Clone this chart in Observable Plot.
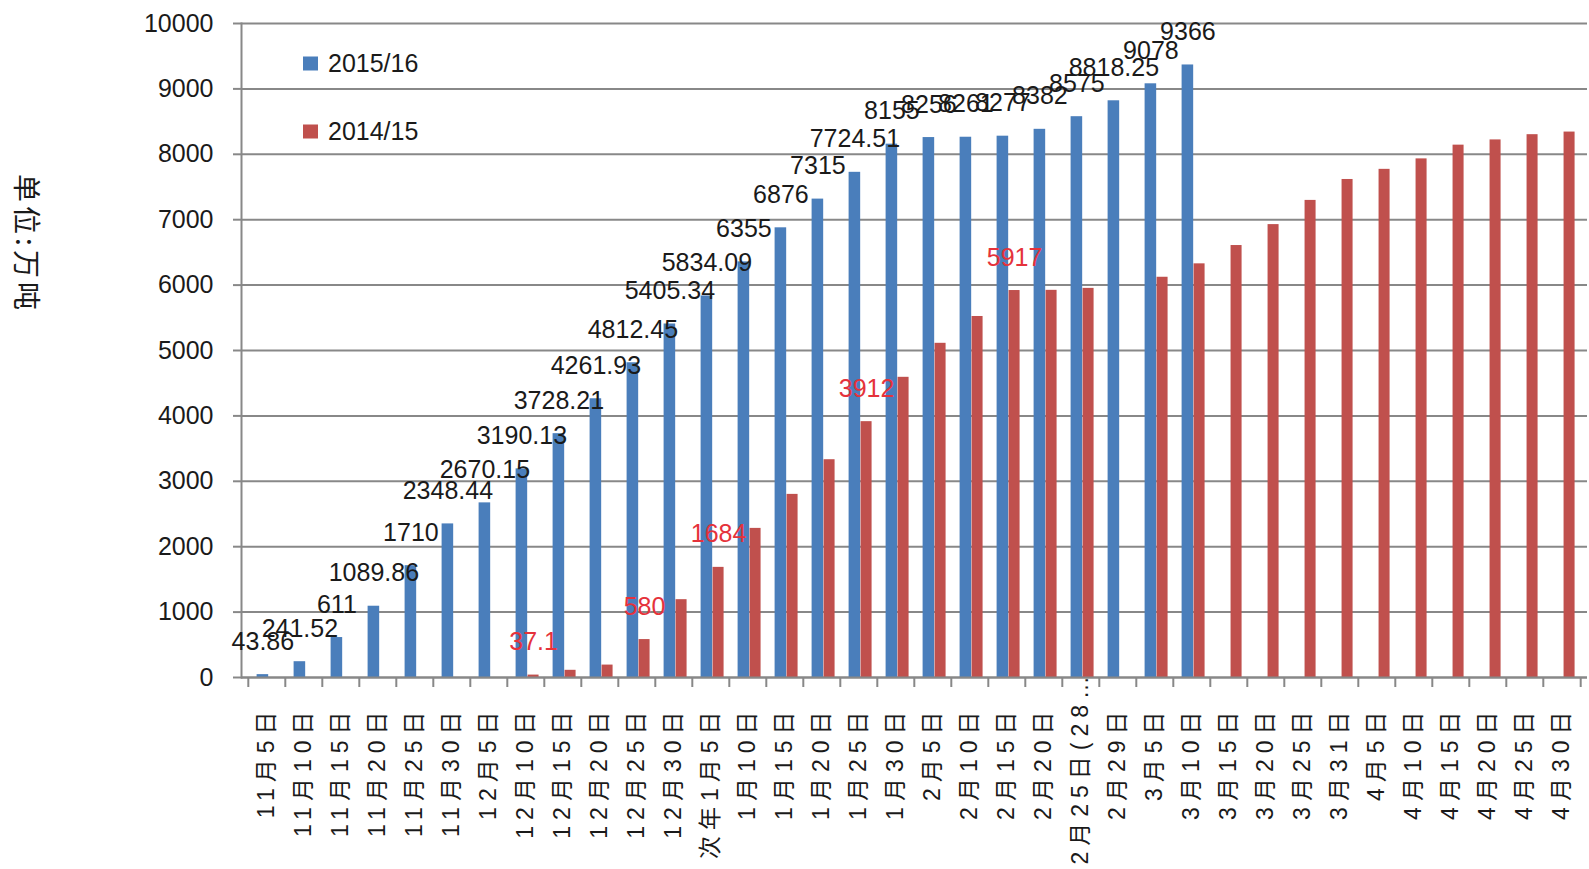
<!DOCTYPE html>
<html>
<head>
<meta charset="utf-8">
<script src="https://cdn.jsdelivr.net/npm/d3@7"></script>
<script src="https://cdn.jsdelivr.net/npm/@observablehq/plot@0.6"></script>
<style>
  body { margin: 0; background: #fff; }
  #wrap { position: relative; width: 1589px; height: 869px; font-family: "Liberation Sans", "Noto Sans CJK SC", sans-serif; color: #1a1a1a; }
  .lg { position: absolute; left: 303px; display: flex; align-items: center; font-size: 25px; transform: translateY(-50%); }
  .sw { width: 15px; height: 14px; margin-right: 10px; }
  #ylab { position: absolute; left: 28px; top: 244px; transform: translate(-50%, -50%) rotate(90deg); font-size: 28px; letter-spacing: 4px; white-space: nowrap; font-family: "Noto Sans CJK SC", sans-serif; }
</style>
</head>
<body>
<div id="wrap">
  <div id="ylab">单位:万吨</div>
  <div class="lg" style="top:63px"><span class="sw" style="background:#4a7ebb"></span>2015/16</div>
  <div class="lg" style="top:131px"><span class="sw" style="background:#c0504d"></span>2014/15</div>
</div>
<script>
// Reporting dates (cumulative totals)
const categories = ["11月5日","11月10日","11月15日","11月20日","11月25日","11月30日",
  "12月5日","12月10日","12月15日","12月20日","12月25日","12月30日",
  "次年1月5日","1月10日","1月15日","1月20日","1月25日","1月30日",
  "2月5日","2月10日","2月15日","2月20日","2月25日(28…","2月29日",
  "3月5日","3月10日","3月15日","3月20日","3月25日","3月31日",
  "4月5日","4月10日","4月15日","4月20日","4月25日","4月30日"];

// 2015/16 season, cumulative (万吨)
const values1516 = [43.86, 241.52, 611, 1089.86, 1710, 2348.44, 2670.15, 3190.13, 3728.21,
  4261.93, 4812.45, 5405.34, 5834.09, 6355, 6876, 7315, 7724.51, 8155, 8256, 8261, 8277,
  8382, 8575, 8818.25, 9078, 9366];

// 2014/15 season, cumulative (万吨); null where there is no report
const values1415 = [null, null, null, null, null, null, null, 37.1, 110, 190, 580, 1190,
  1684, 2280, 2800, 3330, 3912, 4590, 5110, 5520, 5917, 5920, 5950, null,
  6120, 6325, 6605, 6925, 7295, 7615, 7770, 7930, 8140, 8220, 8300, 8340];

// 2014/15 points that carry a value label
const labeled1415 = ["12月10日", "12月25日", "次年1月5日", "1月25日", "2月15日"];

const yTicks = d3.range(0, 10001, 1000);

const W = 1589, H = 869, mL = 241, mR = 2, mT = 23, mB = 192;
const bw = (W - mL - mR) / categories.length;
const blue = "#4a7ebb", red = "#c0504d";
// bar slots inside each date band, as fractions of the band width
const slot1516 = [0.23, 0.55], slot1415 = [0.55, 0.855];
const mid = s => (s[0] + s[1]) / 2 - 0.5;

const rows1516 = values1516.map((v, i) => ({cat: categories[i], v}));
const rows1415 = values1415.map((v, i) => ({cat: categories[i], v})).filter(d => d.v != null);
const isLong = s => s.length > 8;

const chart = Plot.plot({
  width: W, height: H,
  marginLeft: mL, marginRight: mR, marginTop: mT, marginBottom: mB,
  style: {fontFamily: '"Liberation Sans", "Noto Sans CJK SC", sans-serif', fontSize: "25px", color: "#1a1a1a", background: "transparent"},
  x: {type: "band", domain: categories, padding: 0, axis: null},
  y: {domain: [0, 10000], axis: null},
  marks: [
    Plot.gridY(yTicks, {stroke: "#888", strokeOpacity: 1, strokeWidth: 2}),
    Plot.axisY(yTicks, {tickSize: 8, tickPadding: 20, tickFormat: d => String(d), stroke: "#888",
      strokeWidth: 2, fontSize: 25, label: null, anchor: "left"}),
    Plot.barY(rows1516, {x: "cat", y: "v", fill: blue,
      insetLeft: bw * slot1516[0], insetRight: bw * (1 - slot1516[1])}),
    Plot.barY(rows1415, {x: "cat", y: "v", fill: red,
      insetLeft: bw * slot1415[0], insetRight: bw * (1 - slot1415[1])}),
    Plot.frame({anchor: "left", stroke: "#888", strokeWidth: 2}),
    Plot.ruleY([0], {stroke: "#888", strokeWidth: 2}),
    // tick marks at the band boundaries below the axis
    Plot.ruleX(categories, {x: d => d, dx: -bw / 2, y1: 0, y2: 0, insetBottom: -10, stroke: "#888", strokeWidth: 2}),
    Plot.ruleX(categories.slice(-1), {x: d => d, dx: bw / 2, y1: 0, y2: 0, insetBottom: -10, stroke: "#888", strokeWidth: 2}),
    // value labels
    Plot.text(rows1516, {x: "cat", y: "v", text: d => String(d.v), dy: -33, dx: bw * mid(slot1516),
      fill: "#1a1a1a", fontSize: 25}),
    Plot.text(rows1415.filter(d => labeled1415.includes(d.cat)), {x: "cat", y: "v", text: d => String(d.v),
      dy: -33, dx: bw * mid(slot1415), fill: "#e5323b", fontSize: 25}),
    // date labels, read bottom to top
    Plot.text(categories.filter(s => !isLong(s)), {x: d => d, text: d => d, frameAnchor: "bottom",
      rotate: -90, textAnchor: "end", lineAnchor: "middle", dy: 28, fontSize: 23, fill: "#1a1a1a"}),
    Plot.text(categories.filter(isLong), {x: d => d, text: d => d, frameAnchor: "bottom",
      rotate: -90, textAnchor: "start", lineAnchor: "middle", dy: 187, fontSize: 23, fill: "#1a1a1a"})
  ]
});
// widen the spacing of the date labels
d3.select(chart).selectAll("text")
  .filter(function() { return categories.includes(this.textContent); })
  .style("letter-spacing", "6px");
chart.style.position = "absolute";
chart.style.left = "0";
chart.style.top = "0";
document.getElementById("wrap").prepend(chart);
</script>
</body>
</html>
